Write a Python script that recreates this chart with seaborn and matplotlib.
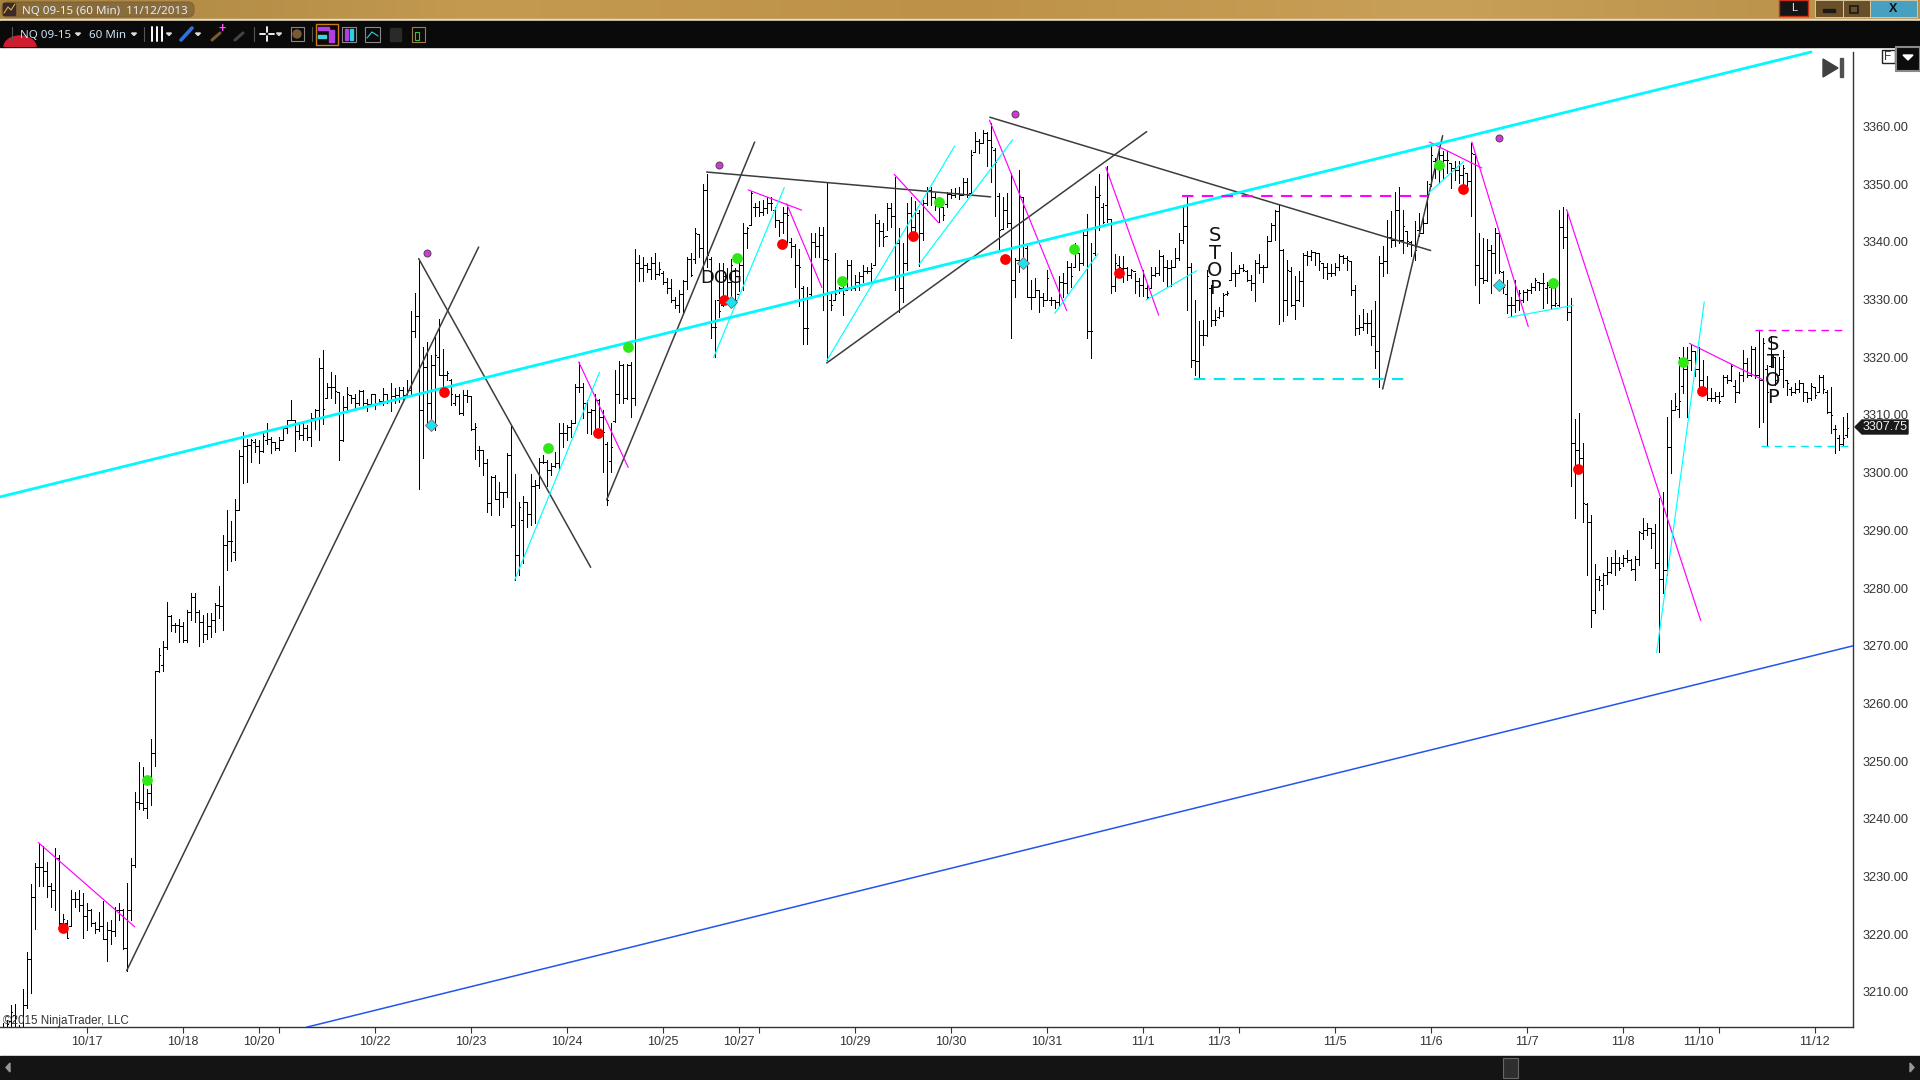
import numpy as np
import pandas as pd
import matplotlib
matplotlib.use('Agg')
import matplotlib.pyplot as plt
from matplotlib.patches import Rectangle, Polygon, FancyBboxPatch
import seaborn as sns

# Bar data, ten bars per row (60 min bars)
highs = [
    3204.6,3205.2,3207.7,3207.9,3204.3,3210.5,3216.9,3228.7,3232.3,3235.8,
    3235.3,3232.6,3228.8,3234.9,3233.8,3223.6,3222.5,3227.7,3227.4,3227.7,
    3227.1,3225.4,3224.3,3222.2,3223.8,3225.8,3222.2,3222.5,3224.8,3225.4,
    3224.3,3228.8,3233.3,3244.7,3249.8,3249,3245.1,3253.9,3265.7,3269.6,
    3270.8,3277.5,3275.3,3273.9,3274.6,3274.1,3276.2,3279.1,3279.1,3276.2,
    3275.3,3275.6,3275.7,3277.4,3280.4,3289.2,3293.5,3291.6,3295.4,3304,
    3307,3305.8,3305.8,3305.8,3305.6,3306.9,3308.6,3306.2,3305.3,3306.2,
    3308,3309.2,3312.6,3309.1,3308.8,3308.8,3308.2,3310.3,3311,3319.8,
    3321.2,3315.5,3317.5,3316.9,3314,3313.3,3314.8,3313.4,3313.6,3314.3,
    3314.3,3312.7,3313.7,3313.6,3312.7,3314.6,3313.7,3315.5,3314.6,3314.9,
    3314.9,3316,3328,3331.2,3337.1,3321.7,3322.7,3320.4,3323.5,3326.7,
    3321.5,3317.6,3316.3,3313.6,3313.7,3314.3,3314.3,3313.3,3308.6,3304.6,
    3303.8,3302.3,3299.4,3299.6,3298.4,3296.7,3303.4,3308.2,3299.7,3295,
    3296,3295,3299.7,3298.7,3302.5,3303,3302.2,3301.6,3303.6,3308.6,
    3308.6,3308.2,3309.2,3315.3,3319.2,3315.5,3312.6,3311.1,3313.6,3312.7,
    3310.8,3305.4,3308.6,3317.8,3319.4,3318.8,3318.9,3319.2,3338.7,3337.7,
    3337.4,3336.3,3337.4,3338,3336.5,3335,3333.7,3333.5,3330.5,3331.7,
    3333.4,3337.4,3338,3342.4,3341.4,3350,3351.8,3337.4,3329.9,3336.3,
    3336.4,3335.4,3337,3335.4,3337.7,3343.2,3342.6,3348.9,3346.7,3347,
    3347.3,3347.7,3347.8,3346,3343.8,3346.1,3346.1,3340.6,3339.6,3338.7,
    3332.4,3332.2,3341.5,3341.5,3342.6,3342.6,3350.2,3331.1,3338.1,3332.2,
    3333.4,3336.9,3336.9,3334.3,3334.8,3336,3335.7,3336.3,3344.8,3343.8,
    3343.3,3346.7,3346.7,3351.3,3342.4,3339.8,3346.7,3347.7,3347,3345.5,
    3347.3,3349.5,3349.5,3348.4,3347.8,3346.1,3348.7,3349.1,3349.3,3349.5,
    3351,3351.1,3356,3359,3357.9,3359.4,3359,3360.6,3356.2,3348.4,
    3347.8,3348.5,3351.9,3337.2,3352.5,3347.8,3339.2,3333.4,3333.7,3331.7,
    3331.1,3335.1,3330.5,3329.9,3334,3334.6,3336.6,3336.3,3339.8,3338,
    3341.8,3344.8,3339.8,3349.6,3351.8,3346.7,3353.1,3343.8,3337.9,3337.5,
    3337.5,3335.7,3335.3,3334.6,3333.7,3335.2,3332.6,3335.7,3335.7,3338.6,
    3337.8,3336.9,3336.9,3338.9,3341.5,3346.4,3347.8,3336.3,3330,3326.2,
    3326.5,3335.2,3332.6,3328.2,3328.7,3331.1,3331.4,3338.3,3335.2,3336,
    3336.2,3335.2,3334.3,3336.9,3337.9,3336,3341.1,3343.3,3345.6,3346.4,
    3338.7,3336.9,3335.7,3334,3334.9,3338,3338.5,3338.6,3338.3,3338,
    3336.3,3336.4,3336.2,3336.3,3337.9,3337.8,3337.5,3336.6,3332.6,3327.4,
    3328.4,3327.7,3328.2,3329.7,3337.5,3339.2,3343.8,3345.3,3348.7,3349.5,
    3345.6,3341.8,3340.1,3343.6,3345,3344.1,3350.5,3356.8,3354.5,3355.7,
    3355.7,3355.7,3353.7,3354,3354,3353.4,3351.9,3357.1,3355.3,3341.5,
    3340.7,3340.5,3339.5,3342.4,3341.5,3334.9,3333.4,3330.5,3333.4,3331.7,
    3331.6,3331.8,3332.9,3333.7,3333.1,3334.6,3333.1,3332.2,3332.2,3345.5,
    3346,3345.2,3330.2,3309.3,3310.3,3305.1,3294.8,3292.7,3284.2,3282.1,
    3282.6,3285.4,3285.3,3286.6,3285.3,3285.7,3286.6,3285,3285.6,3289.9,
    3292.1,3291.2,3290.4,3291.1,3295.6,3296.6,3309.6,3312.6,3313.8,3320.1,
    3321.8,3321.8,3322.1,3321,3321.8,3319.5,3316.7,3314.6,3314,3314,
    3316.9,3316.9,3318.9,3316.1,3317.5,3321.3,3319.8,3322,3321.8,3324.6,
    3323.3,3318.7,3323.6,3320.1,3320.1,3321.3,3316.1,3314.9,3315.5,3316.1,
    3315.5,3314,3315.5,3314.9,3316.9,3316.9,3314.3,3314.9,3308.3,3306.5,
    3309.7,3310.4,
]
lows = [
    3200,3200,3200,3203,3200,3203,3207.2,3209.9,3221,3228.3,
    3228.3,3226.5,3224.8,3224.2,3221.6,3221.6,3219.3,3221.5,3224.8,3224.1,
    3219.3,3220.8,3221.4,3220.3,3220.6,3219.1,3215.3,3218.3,3219.7,3222.5,
    3217.4,3213.7,3222.4,3231.7,3241.7,3241.5,3240.1,3242.4,3249.2,3265.5,
    3265.7,3269.4,3272.5,3272.3,3270.7,3270.6,3270.7,3274.4,3274.2,3270,
    3270.7,3271.2,3271.6,3272.3,3274.8,3272.7,3283.1,3284.7,3284.8,3293.5,
    3298.2,3298.4,3301.9,3303.6,3301.6,3303.6,3305,3303.4,3303.9,3304,
    3305.6,3306.8,3309.1,3303.8,3305.8,3305.6,3305.6,3304.7,3307.5,3305.6,
    3308.5,3313,3313,3312,3302.2,3305.5,3310.5,3312,3311.1,3311.7,
    3311.4,3310.7,3311.7,3311.1,3311.9,3311.7,3312,3310.7,3312,3312.3,
    3312.7,3313.7,3313.7,3323.5,3297.1,3302.5,3308,3307.4,3307.4,3316.9,
    3314.3,3316.1,3311.7,3311.7,3310.1,3310,3312.3,3307.4,3302.3,3301.1,
    3299.6,3293.2,3292.6,3295.4,3292.6,3294.1,3295.7,3290.5,3281.4,3282.2,
    3284.3,3290.5,3290.9,3291.2,3297.3,3301.6,3297.7,3299.6,3301,3300.6,
    3304.5,3305.6,3306.2,3308.8,3314,3309.4,3306.8,3306.7,3306.8,3308,
    3300.2,3294.4,3300.2,3308.8,3312,3312.1,3312.7,3309.7,3311.8,3333.3,
    3333.3,3334.8,3333.5,3333.5,3334.2,3332.7,3331.2,3329.6,3328.5,3327.9,
    3327.6,3331.9,3334,3336.3,3337.4,3334.6,3335.7,3323.3,3320.1,3327,
    3328.8,3329.9,3330.2,3329.4,3331.4,3331.7,3338.9,3342.9,3344.4,3344.5,
    3344.7,3345,3345.5,3342.6,3341,3341.5,3339.8,3337.4,3332.2,3328.8,
    3322.3,3322.3,3330.5,3337.3,3337.3,3328.2,3319.5,3328.2,3329.9,3331.2,
    3327.3,3331.7,3331.7,3331.7,3331.7,3333.1,3334.6,3332.8,3336,3339.2,
    3339.2,3342.1,3342.6,3331.7,3327.9,3329.6,3335.1,3340.9,3340.9,3335.8,
    3340.3,3346.4,3346.4,3345.5,3343.5,3343.8,3346.1,3347.6,3347.7,3347.4,
    3348.1,3347.8,3348.4,3355.5,3355.4,3357.1,3353.2,3350.4,3344.4,3338.6,
    3342.2,3342.6,3323.3,3330.5,3334.7,3336.3,3330.5,3328.3,3330.5,3327.8,
    3328.9,3329.9,3329.1,3328.5,3328.9,3330.5,3331.1,3332.2,3335.7,3335.1,
    3336,3323.3,3319.8,3337.7,3342.1,3343.2,3343.5,3331.2,3331.4,3334,
    3333,3333.4,3333.7,3331.1,3330.7,3330.6,3330.3,3332,3334,3334.3,
    3333.2,3332.3,3332.3,3335.7,3336.9,3339.8,3328.2,3318.3,3317,3316.4,
    3322.2,3323.6,3325.4,3325.6,3326.8,3327.1,3330.8,3333.4,3332.3,3334.6,
    3335,3333.2,3331.7,3329.7,3334.6,3333,3335.7,3340.1,3340.4,3325.8,
    3326.2,3327.4,3328.8,3326.6,3329.7,3328.8,3336,3336.9,3336,3335.2,
    3333.7,3333.6,3334,3334.3,3335.2,3336.3,3335.2,3330.8,3323.9,3324.1,
    3324.8,3324.2,3322.2,3318.1,3314.8,3334,3334.6,3339.1,3339.2,3339.8,
    3338,3339.2,3337.5,3336.9,3341,3341.5,3343.3,3349.6,3351,3350.2,
    3351,3351.9,3349.3,3350.8,3350.2,3349,3349.5,3344.4,3332.6,3329.4,
    3332.9,3333.2,3331.1,3334.6,3334.6,3331.1,3327.7,3327.2,3327.9,3328.2,
    3329.6,3330,3331.1,3331.7,3331.7,3328.5,3329.4,3328.5,3328.8,3328.9,
    3339,3326.5,3297.7,3292.2,3300.8,3291.5,3282.3,3273.3,3275.7,3279.6,
    3276.4,3280.7,3282.6,3282.3,3283.1,3283.8,3284.6,3283.1,3281.4,3284,
    3288.5,3289.2,3286.9,3283.5,3269,3279.2,3282.3,3300,3310.9,3309.7,
    3313.8,3309.7,3317.8,3316.7,3314.9,3313.8,3312.6,3312.5,3312.5,3312,
    3313.2,3315.5,3315.8,3312.3,3313.8,3315.8,3316.5,3316.7,3316.4,3307.9,
    3308.8,3304.6,3318.3,3315.2,3316.9,3314.9,3313.5,3313.5,3313.8,3314,
    3312.5,3312.3,3312.6,3312.9,3314,3313.8,3310.3,3306.8,3303.4,3303.9,
    3304.6,3306.2,
]
opens = [
    3203,3204,3205,3206,3204,3204,3207.8,3215.8,3226.4,3231.6,
    3231.6,3230.9,3228.3,3227.6,3233.2,3221.9,3221.9,3221.5,3226.1,3226.1,
    3225.1,3223.1,3224.2,3222,3220.9,3221.4,3219.1,3220.8,3220.5,3224.2,
    3224.2,3217.6,3224.2,3232,3243,3242.7,3241.8,3244.4,3251.5,3265.7,
    3266.7,3269.7,3275.2,3273.6,3273.6,3273.4,3271,3275.9,3278.4,3275.9,
    3274.2,3272,3273.4,3274.5,3277.1,3276.9,3287.4,3288.1,3286.3,3293.6,
    3302.9,3304.7,3304.8,3305.4,3304.7,3303.8,3305.6,3305.8,3305.3,3304.2,
    3305.6,3307.7,3309.1,3309.1,3307.3,3306.5,3307.8,3306.2,3309.4,3310.8,
    3318.2,3313,3314.9,3314.9,3314,3305.6,3311.4,3313.4,3312.9,3312,
    3314.2,3312,3311.9,3313.6,3311.9,3312.5,3313.6,3312.5,3313.2,3313.4,
    3314.3,3313.4,3314.3,3324.6,3327.1,3310.8,3318.3,3312,3318.6,3320.1,
    3316.9,3316.9,3316.1,3312,3313.3,3310.4,3313.4,3313.3,3307.5,3303.9,
    3303.9,3301.6,3294.7,3299.2,3295.5,3296.7,3296.7,3303,3290.9,3285.8,
    3291.8,3295,3292.9,3297.7,3297.8,3301.9,3301.9,3300.4,3301.1,3301.6,
    3306.9,3306.9,3307.9,3308.6,3314.9,3314.9,3312,3310.5,3310.8,3312.6,
    3309.7,3305,3302,3309,3313.7,3318.6,3312.9,3318.6,3312.9,3336.3,
    3335.4,3336,3335.3,3336.4,3334.5,3334.6,3333,3332,3330,3329,
    3331,3333.2,3337,3337,3341.4,3339,3349,3337,3325.3,3330,
    3329,3334,3333,3335,3331,3336,3341.5,3342.9,3346.1,3346.1,
    3345.2,3345.8,3346.7,3345.6,3343.8,3343.5,3345,3340,3339.2,3336,
    3332,3325,3331,3340,3339.2,3341.2,3337,3330,3329.9,3331.5,
    3332,3331.7,3336,3332,3333,3334,3335,3335,3336,3343.3,
    3341.8,3341,3345.8,3344.4,3339.8,3332,3336.3,3345,3342.6,3345,
    3341.5,3346.7,3349,3347.8,3346.4,3346.1,3346.5,3348.3,3348.1,3348.4,
    3348.1,3350.4,3348.4,3355.5,3357.4,3357.2,3358.8,3357.7,3356,3348,
    3342.2,3345.5,3343.2,3333.4,3336.9,3347.8,3339,3330.5,3330.5,3331.7,
    3330.5,3329.9,3330,3329.9,3329.6,3333.1,3332.8,3335.7,3335.7,3338,
    3336.3,3341.2,3324.5,3338,3347.8,3346,3346.4,3344,3332.4,3336,
    3335.5,3335.5,3334.3,3335,3333.2,3332.6,3332,3332,3334.3,3334.6,
    3337.5,3335.7,3335.5,3335.7,3337.2,3340.4,3342.7,3335.7,3319.6,3319.3,
    3323.9,3323.9,3332,3326.5,3327,3328,3331,3333.4,3334.6,3334.6,
    3335.5,3335,3333.4,3332.9,3336.3,3335.7,3335.7,3340.1,3343,3345.3,
    3338.6,3330,3335,3329.1,3330,3333.2,3337.8,3337.5,3338.3,3338,
    3336.3,3335.7,3334.6,3334.6,3335.7,3337.5,3337.2,3336.6,3331.7,3325,
    3325.3,3325.9,3325.9,3323.6,3321,3336.3,3336.6,3340.9,3340.4,3345.6,
    3340.4,3341.8,3340,3339.5,3342,3341.5,3343.3,3350,3354,3352.8,
    3355.1,3354.2,3353.7,3352.8,3352.5,3351.6,3351.9,3350.5,3355.3,3336,
    3333.7,3333.4,3338.6,3338,3341.5,3334.8,3331,3329,3329,3330,
    3330,3331.3,3331.7,3332.2,3333.1,3332.8,3332,3332.2,3329,3329,
    3342.5,3340.8,3327.9,3305.1,3303.9,3302.5,3294.6,3291.5,3276.2,3281.5,
    3280.5,3282.3,3282.7,3284.3,3284.3,3284.3,3285.2,3284.9,3283.3,3285,
    3289.5,3290.1,3290.4,3289.5,3284.3,3281.5,3283.1,3304.5,3310.9,3311,
    3315,3318,3319.5,3321,3318,3316,3314.5,3313,3313,3313.3,
    3313.2,3316.5,3316,3315,3314,3317,3319,3317,3321.5,3317,
    3316,3318,3318.5,3320,3316.9,3318,3316,3314.5,3314,3314.5,
    3315.5,3314,3313,3314.9,3314,3316.5,3314,3310.5,3307.5,3306,
    3305,3306.5,
]
closes = [
    3204,3204.5,3206.5,3204,3204,3207.8,3215.8,3226.4,3231.6,3231.6,
    3230.9,3228.3,3227.6,3233.2,3221.9,3222.6,3219.3,3226.1,3226.1,3225.1,
    3223.1,3224.2,3222,3220.9,3221.4,3219.1,3220.8,3220.5,3224.2,3224.2,
    3217.6,3224.2,3232,3243,3242.7,3241.8,3244.4,3251.5,3265.7,3268.4,
    3269.7,3275.2,3273.6,3273.6,3273.4,3271,3275.9,3278.4,3275.9,3274.2,
    3272,3273.4,3274.5,3277.1,3276.9,3287.4,3288.1,3288.1,3293.6,3302.9,
    3304.7,3304.8,3305.6,3304.7,3303.8,3306.3,3305.8,3305.3,3304.2,3305.6,
    3307.7,3309.1,3309.1,3307.3,3306.5,3307.8,3306.2,3309.4,3310.8,3318.2,
    3311.1,3314.9,3314.9,3314.2,3305.6,3311.4,3313.6,3312.9,3312,3314.2,
    3312,3311.9,3313.6,3311.9,3312.5,3313.6,3312.5,3313.2,3313.4,3314.3,
    3313.4,3314.3,3324.6,3327.1,3310.8,3318.3,3312,3318.6,3320.4,3316.9,
    3316.9,3317.2,3313.7,3313.3,3310.4,3313.4,3313.3,3307.5,3307.9,3303.9,
    3301.6,3294.7,3299.2,3295.5,3296.7,3296.7,3303,3290.9,3285.8,3294.1,
    3295,3292.9,3297.7,3297.8,3301.9,3301.9,3300.4,3301.1,3301.6,3306.9,
    3306.9,3307.9,3308.6,3314.9,3314.9,3312,3310.5,3310.8,3312.6,3309.7,
    3307.1,3295.2,3304.5,3313.7,3318.6,3312.9,3318.6,3312.9,3336.3,3335.4,
    3336,3335.3,3336.4,3334.5,3335.3,3333,3332,3330,3329,3331,
    3333.2,3337,3334.3,3341.5,3339,3349,3337.7,3325.3,3325.3,3328,
    3334,3333,3336,3330,3336,3341.5,3342.4,3348.4,3346.1,3345.2,
    3345.8,3346.7,3346.7,3343.8,3343.5,3345,3344.7,3339.2,3336,3335.7,
    3325,3325,3340,3339.2,3341.2,3337,3336.9,3329,3331,3332,
    3331,3336,3332,3333,3334,3335,3335,3335.5,3343.3,3341.8,
    3340.9,3345.8,3344.4,3339.8,3332,3336.3,3345,3342.6,3345.5,3341.5,
    3346.7,3349,3347.8,3346.4,3346.1,3344.7,3348.3,3348.1,3348.4,3348.1,
    3350.4,3348.1,3355,3357.4,3357.2,3358.8,3357.7,3356.5,3353.9,3342,
    3345.5,3343.2,3333.4,3336.9,3347.8,3346.1,3330.5,3330.5,3331.7,3330.5,
    3329.9,3333.7,3329.9,3329.6,3333.1,3332.8,3335.7,3334,3338.9,3336.3,
    3341.2,3324.5,3324.5,3347.8,3348.1,3343.5,3344,3332.4,3336.3,3335.7,
    3335.5,3334.3,3335.2,3333.2,3332.6,3334,3330.5,3334.3,3334.6,3337.5,
    3335.7,3335.5,3335.7,3337.2,3340.4,3342.7,3335.7,3319.6,3319.3,3323.9,
    3323.9,3334,3326.5,3326.5,3328,3330.8,3331.1,3334.6,3334.6,3335.5,
    3335.2,3333.4,3332.9,3336.3,3335.7,3335.7,3340.1,3343,3345.3,3338.6,
    3330,3335.2,3329.1,3330,3333.2,3337.8,3337.5,3338.3,3338,3336.6,
    3335.7,3334.6,3334.6,3335.7,3337.5,3337.2,3336.9,3331.7,3325,3325.3,
    3325.9,3325.9,3323.6,3321,3336.3,3336.6,3340.9,3340.4,3345.6,3340.4,
    3342.7,3340.1,3339.5,3338.6,3341.5,3343.3,3347.9,3355.1,3352.8,3355.1,
    3354.2,3354.2,3352.8,3352.5,3351.6,3352.8,3350.5,3355.4,3336,3333.7,
    3333.4,3338.6,3338,3341.5,3334.9,3332.2,3329,3329,3330,3331.1,
    3331.3,3331.7,3332.2,3333.4,3332.8,3332.8,3332.5,3329,3329.4,3342.5,
    3340.8,3327.9,3305.1,3303.9,3302.5,3294.7,3291.5,3276.2,3281.5,3281.4,
    3282.3,3282.7,3284.3,3284.3,3283.4,3285.2,3284.9,3283.3,3285,3289.8,
    3290.1,3290.4,3289.5,3284.3,3281.5,3283.1,3304.5,3310.9,3311.5,3312.5,
    3318,3319.5,3321,3318,3316,3314.5,3313,3313,3313.3,3312.5,
    3316.5,3316,3318.5,3314,3317,3319,3317,3321.5,3317,3316,
    3322.5,3314,3320,3316,3318,3320,3315.5,3314,3314.5,3315.5,
    3314,3313,3315,3313.5,3316.5,3314.5,3310.5,3310,3307.5,3305,
    3306,3307.75,
]

# x axis: bar number of each date tick, blank label = tick only
tick_bars = [21, 45, 64, 69, 93, 117, 141, 165, 184, 189, 213, 237, 261, 285, 304, 309, 333, 357, 381, 405, 424, 429, 453]
tick_names = ['10/17', '10/18', '10/20', '', '10/22', '10/23', '10/24', '10/25', '10/27', '', '10/29', '10/30',
              '10/31', '11/1', '11/3', '', '11/5', '11/6', '11/7', '11/8', '11/10', '', '11/12']
price_ticks = list(range(3210, 3380, 10))

# drawn trend lines: (bar, price, bar, price)
main_cyan = [(-0.67, 3295.8, 452.1, 3372.9)]
blue_lines = [(76, 3203.9, 462.66, 3270)]
black_lines = [(31, 3213.7, 119, 3339.1), (104, 3337.1, 147, 3283.6), (151, 3295.3, 188, 3357.3),
               (176, 3352.1, 247, 3347.8), (206, 3319, 286, 3359.1), (246.8, 3361.6, 357, 3338.5),
               (345, 3314.5, 360, 3358.4)]
magenta_lines = [(8.9, 3235.9, 33, 3221.3), (144, 3319.2, 156.4, 3300.9), (186.4, 3349, 199.75, 3345.5),
                 (196, 3346.6, 204.8, 3332.1), (222.9, 3351.7, 234, 3343.3), (246.7, 3361.1, 266, 3328.1),
                 (275.8, 3352.9, 289, 3327.3), (356.7, 3357.3, 369.8, 3352.8), (367.3, 3357.3, 381.4, 3325.3),
                 (391, 3345.6, 424.5, 3274.4), (421.7, 3322.4, 440.3, 3316)]
cyan_lines = [(128, 3281.4, 149.2, 3317.4), (177.7, 3319.9, 195.4, 3349.4), (206, 3319.4, 238, 3356.6),
              (229, 3336, 252.5, 3357.7), (263, 3327.6, 273.8, 3337.9), (285.8, 3329.9, 298.5, 3335),
              (356.4, 3348.4, 365.2, 3353.9), (376.4, 3326.9, 392.7, 3329), (413.5, 3268.8, 425.4, 3329.6)]
# dashed stop levels: (first bar, last bar, price, colour, width)
stop_levels = [(294.9, 356.4, 3348, '#ff00ff', 1.5), (297.9, 351, 3316.3, '#00e8f0', 1.5),
               (438, 461, 3324.8, '#ff00ff', 1.0), (439.6, 461.4, 3304.6, '#00e8f0', 1.0)]

# signal markers
red_bars = [15, 110.3, 148.8, 180.3, 194.8, 227.5, 250.6, 279, 365, 393.8, 424.8]
red_prices = [3221.1, 3314, 3306.8, 3329.9, 3339.6, 3341, 3337, 3334.6, 3349.2, 3300.6, 3314.2]
green_bars = [36, 136.3, 156.3, 183.6, 209.8, 234, 267.9, 359, 387.5, 420]
green_prices = [3246.8, 3304.3, 3321.7, 3337.2, 3333.2, 3346.9, 3338.8, 3353.3, 3332.9, 3319.2]
diamond_bars = [107, 182, 255, 374]
diamond_prices = [3308.2, 3329.6, 3336.3, 3332.5]
purple_bars = [106, 179, 253, 374]
purple_prices = [3338, 3353.3, 3362.1, 3358]

sns.set_theme(style='white')
plt.rcParams['font.family'] = ['Liberation Sans', 'DejaVu Sans']

W, H = 1920, 1080
fig = plt.figure(figsize=(19.2, 10.8), dpi=100, facecolor='white')
ax = fig.add_axes([0, 1 - 1027 / H, 1853.3 / W, (1027 - 47) / H])

# price bars
bars = pd.DataFrame({'bar': range(len(highs)), 'high': highs, 'low': lows, 'open': opens, 'close': closes})
stems = bars.melt(id_vars='bar', value_vars=['high', 'low'], value_name='price')
sns.lineplot(data=stems, x='bar', y='price', units='bar', estimator=None, color='black', lw=0.72,
             antialiased=False, legend=False, ax=ax, zorder=2)
ax.hlines(bars['open'], bars['bar'] - 0.42, bars['bar'], color='black', lw=0.5, antialiased=False, zorder=2)
ax.hlines(bars['close'], bars['bar'], bars['bar'] + 0.42, color='black', lw=0.5, antialiased=False, zorder=2)


def draw_lines(lines, color, lw, zorder=3):
    for x0, y0, x1, y1 in lines:
        sns.lineplot(x=[x0, x1], y=[y0, y1], color=color, lw=lw, estimator=None, errorbar=None,
                     legend=False, ax=ax, zorder=zorder)


draw_lines(black_lines, '#3c3c3c', 1.1)
draw_lines(magenta_lines, '#ff00ff', 0.85)
draw_lines(cyan_lines, '#00ffff', 0.85)
draw_lines(blue_lines, '#2255ee', 1.1)
draw_lines(main_cyan, '#00f8ff', 2.0)

for x0, x1, level, color, lw in stop_levels:
    ax.plot([x0, x1], [level, level], color=color, lw=lw, dashes=(5.5, 4), zorder=3)

sns.scatterplot(x=red_bars, y=red_prices, color='#ff0000', s=60, linewidth=0, ax=ax, zorder=5, legend=False)
sns.scatterplot(x=green_bars, y=green_prices, color='#30e818', s=60, linewidth=0, ax=ax, zorder=5, legend=False)
sns.scatterplot(x=diamond_bars, y=diamond_prices, color='#20e0f0', marker='D', s=38, edgecolor='#707070',
                linewidth=0.6, ax=ax, zorder=5, legend=False)
sns.scatterplot(x=purple_bars, y=purple_prices, color='#d038d8', s=26, edgecolor='#404040',
                linewidth=0.6, ax=ax, zorder=5, legend=False)

# hand written notes on the chart
ax.text(179.7, 3333.7, 'DOG', family='DejaVu Sans', fontsize=13, color='#111111', ha='center', va='center', zorder=6)
ax.text(303, 3336.5, 'S\nT\nO\nP', family='DejaVu Sans', fontsize=14, color='#111111', ha='center', va='center',
        linespacing=0.92, zorder=6)
ax.text(442.6, 3317.6, 'S\nT\nO\nP', family='DejaVu Sans', fontsize=14, color='#111111', ha='center', va='center',
        linespacing=0.92, zorder=6)
ax.text(0.08, 3205, '©2015 NinjaTrader, LLC', fontsize=8.4, color='#333333', va='center', zorder=6)

ax.set_xlim(-0.667, 462.66)
ax.set_ylim(3203.93, 3373.77)
ax.set_xticks(tick_bars)
ax.set_xticklabels(tick_names, fontsize=9, color='#333333')
ax.yaxis.tick_right()
ax.set_yticks(price_ticks)
ax.set_yticklabels([f'{p}.00' if p < 3370 else '' for p in price_ticks], fontsize=9.2, color='#333333')
ax.tick_params(axis='both', length=4.3, width=0.8, color='#333333', bottom=True, right=True, pad=2.2)
ax.set_xlabel('')
ax.set_ylabel('')
sns.despine(ax=ax, top=True, left=True, right=False, bottom=False)
for name in ['right', 'bottom']:
    ax.spines[name].set_color('#333333')
    ax.spines[name].set_linewidth(1.0)
ax.spines['right'].set_bounds(3203.93, 3372.9)

# window chrome around the chart, in pixels of the screenshot
ui = fig.add_axes([0, 0, 1, 1], facecolor='none')
ui.set_xlim(0, W)
ui.set_ylim(H, 0)
ui.axis('off')
ui.patch.set_alpha(0)
grad = np.linspace(0, 1, 256).reshape(1, -1)
tan = matplotlib.colors.LinearSegmentedColormap.from_list('tan', ['#a98440', '#c49a50', '#bd9148', '#c9a058', '#b88f48'])
ui.imshow(grad, extent=(0, W, 19, 0), cmap=tan, aspect='auto', zorder=1)
ui.set_xlim(0, W)
ui.set_ylim(H, 0)
ui.add_patch(Rectangle((0, 19), W, 2, color='#e6dcc4', zorder=1))
ui.add_patch(Rectangle((0, 21), W, 26, color='#0a0a0a', zorder=1))
ui.add_patch(Rectangle((0, 1056), W, 24, color='#141414', zorder=1))
ui.add_patch(FancyBboxPatch((2, 2), 192, 15, boxstyle='round,pad=0,rounding_size=6', color='#7a6038', alpha=0.7, zorder=2))
ui.add_patch(Rectangle((3, 3), 12, 12, color='#3a2a2a', zorder=3))
ui.plot([4, 8, 11, 15], [13, 7, 10, 4], color='#e0b040', lw=0.8, zorder=4)
ui.text(22, 11, 'NQ 09-15 (60 Min)  11/12/2013', family='Noto Sans', fontsize=8.3, color='#e4eefa', va='center', zorder=4)

# toolbar
toolbar_clip = Rectangle((0, 21), W, 26, transform=ui.transData)
blob = matplotlib.patches.Ellipse((20, 47), 32, 22, color='#d01c30', zorder=2)
ui.add_patch(blob)
blob.set_clip_path(toolbar_clip)
ui.text(20, 35, 'NQ 09-15', family='Noto Sans', fontsize=8.3, color='#cfe4f8', va='center', zorder=4)
ui.text(89, 35, '60 Min', family='Noto Sans', fontsize=8.3, color='#cfe4f8', va='center', zorder=4)
for cx in [78, 134, 169, 198, 279]:
    ui.add_patch(Polygon([(cx - 2.5, 33), (cx + 2.5, 33), (cx, 35.5)], color='#dddddd', zorder=4))
for sx in [12, 144, 254, 312]:
    ui.plot([sx, sx], [27, 41], color='#555555', lw=0.8, zorder=3)
for bx in [152, 157, 162]:
    ui.plot([bx, bx], [27, 41], color='white', lw=1.4, zorder=4)
ui.plot([181, 192], [40, 28], color='#3070e0', lw=2.6, zorder=4)
ui.plot([212, 220], [40, 33], color='#7a5a30', lw=2.2, zorder=4)
ui.plot([235, 243], [40, 33], color='#444444', lw=2.2, zorder=4)
ui.text(222, 29, '+', color='#ff50ff', fontsize=9, ha='center', va='center', fontweight='bold', zorder=4)
ui.plot([260, 265], [34, 34], color='white', lw=1.3, zorder=4)
ui.plot([269, 274], [34, 34], color='white', lw=1.3, zorder=4)
ui.plot([267, 267], [27, 32], color='white', lw=1.3, zorder=4)
ui.plot([267, 267], [36, 41], color='white', lw=1.3, zorder=4)
ui.add_patch(Rectangle((291, 27), 13, 14, fill=False, edgecolor='#888888', lw=0.8, zorder=4))
ui.add_patch(matplotlib.patches.Circle((297, 34), 4, color='#7a5a30', zorder=4))
ui.add_patch(Rectangle((315.5, 23.5), 22, 21, fill=False, edgecolor='#d07818', lw=1.0, zorder=4))
ui.add_patch(Rectangle((318, 27), 11, 3, color='#b040e0', zorder=4))
ui.add_patch(Rectangle((318, 35), 8, 3, color='#40d0e0', zorder=4))
ui.add_patch(Rectangle((329, 30), 5, 12, color='#b040e0', zorder=4))
ui.add_patch(Rectangle((342, 27), 14, 15, fill=False, edgecolor='#888888', lw=0.8, zorder=4))
ui.add_patch(Rectangle((345, 29), 3, 11, color='#b040e0', zorder=4))
ui.add_patch(Rectangle((350, 29), 3, 11, color='#30d0e0', zorder=4))
ui.add_patch(Rectangle((365, 27), 15, 15, fill=False, edgecolor='#888888', lw=0.8, zorder=4))
ui.plot([367, 372, 378], [38, 32, 36], color='#30d0e0', lw=0.8, zorder=4)
ui.add_patch(Rectangle((390, 28), 11, 13, color='#2a2a2a', zorder=4))
ui.add_patch(Rectangle((412, 27), 13, 15, fill=False, edgecolor='#a08040', lw=0.8, zorder=4))
ui.add_patch(Rectangle((415, 32), 4, 8, fill=False, edgecolor='#40c040', lw=0.8, zorder=4))

# window buttons
ui.add_patch(Rectangle((1779, 0), 29, 16, facecolor='#151515', edgecolor='#c83018', lw=1, zorder=3))
ui.text(1794, 8, 'L', color='#e8e8e8', fontsize=8, ha='center', va='center', zorder=4)
ui.add_patch(Rectangle((1815, 0), 28, 17, facecolor='#6a5028', edgecolor='#d8c8a0', lw=0.7, zorder=3))
ui.add_patch(Rectangle((1843, 0), 27, 17, facecolor='#6a5028', edgecolor='#d8c8a0', lw=0.7, zorder=3))
ui.add_patch(Rectangle((1870, 0), 47, 17, facecolor='#48a0c0', edgecolor='#d8c8a0', lw=0.7, zorder=3))
ui.add_patch(Rectangle((1823, 9), 12, 3, color='#1a1a1a', zorder=4))
ui.add_patch(Rectangle((1850, 6), 8, 7, fill=False, edgecolor='#1a1a1a', lw=1.2, zorder=4))
ui.text(1893, 9, 'X', color='#111111', fontsize=9, fontweight='bold', ha='center', va='center', zorder=4)

# controls inside the chart panel
ui.add_patch(Polygon([(1823, 59), (1823, 77), (1838, 68)], color='#404040', zorder=6))
ui.add_patch(Rectangle((1840, 58), 3, 19, color='#505050', zorder=6))
ui.add_patch(Rectangle((1881.5, 49.5), 13, 13, facecolor='white', edgecolor='#222222', lw=1.0, zorder=6))
ui.text(1888, 56.5, 'F', color='#333333', fontsize=8.5, ha='center', va='center', zorder=7)
ui.add_patch(Rectangle((1896, 47), 24, 24, facecolor='#0c0c0c', edgecolor='#888888', lw=1.5, zorder=6))
ui.add_patch(Polygon([(1903, 55), (1913, 55), (1908, 60)], color='white', zorder=7))

# last price flag
ui.add_patch(Polygon([(1855, 427), (1862, 420), (1908, 420), (1908, 434), (1862, 434)], color='#1a1a1a', zorder=6))
ui.text(1885, 427, '3307.75', color='#f0f0f0', fontsize=9, ha='center', va='center', zorder=7)

# scroll bar
ui.add_patch(Polygon([(10, 1063), (10, 1072), (6, 1067.5)], color='#999999', zorder=4))
ui.add_patch(Polygon([(1910, 1063), (1910, 1072), (1914, 1067.5)], color='#999999', zorder=4))
ui.add_patch(Rectangle((1503, 1058), 15, 20, facecolor='#2e2e2e', edgecolor='#666666', lw=0.8, zorder=4))

fig.savefig('out.png', dpi=100, facecolor='white')
